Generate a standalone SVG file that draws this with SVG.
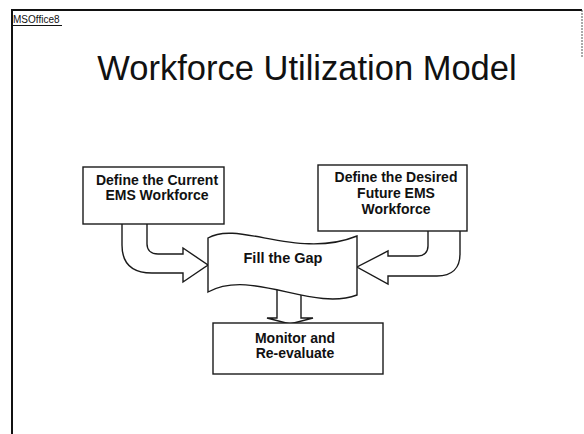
<svg xmlns="http://www.w3.org/2000/svg" width="584" height="434" viewBox="0 0 584 434">
<style>
.frame{stroke:#111;stroke-width:2;fill:none}
.shape{fill:#fff;stroke:#1a1a1a;stroke-width:1.4;stroke-linejoin:miter}
.lbl{font-family:"Liberation Sans",Arial,sans-serif;font-weight:bold;font-size:14px;fill:#111;text-anchor:middle}
.title{font-family:"Liberation Sans",Arial,sans-serif;font-size:34.5px;fill:#111;text-anchor:middle}
.tag{font-family:"Liberation Sans",Arial,sans-serif;font-size:10px;fill:#111}
</style>
<rect width="584" height="434" fill="#fff"/>
<g id="frame">
<path class="frame" d="M12,434 L12,10 L582,10"/>
<path d="M582,10 L582,58" stroke="#555" stroke-width="1" stroke-dasharray="2,1" fill="none"/>
<path d="M12,25.5 L62,25.5" stroke="#111" stroke-width="1.2" fill="none"/>
<text class="tag" x="13" y="23">MSOffice8</text>
</g>
<text class="title" x="307" y="80">Workforce Utilization Model</text>
<g id="connectors">
<path class="shape" d="M122,224 L122,245 C122,263 132,273 152,273 L183,273 L183,282 L208,265 L183,248 L183,254 L158,254 C151,254 147,250 147,244 L147,224"/>
<path class="shape" d="M460,231 L460,254 C460,268 452,276 437,276 L388,276 L388,284 L357,267 L388,251 L388,256 L418,256 C424,256 428,252 428,246 L428,231"/>
<path class="shape" d="M277,288 L277,318 L267,318 L290,324 L313,318 L301,318 L301,288"/>
</g>
<g id="node-current">
<rect class="shape" x="83" y="167" width="141" height="57"/>
<text class="lbl" x="157" y="185">Define the Current</text>
<text class="lbl" x="157" y="200">EMS Workforce</text>
</g>
<g id="node-desired">
<rect class="shape" x="318" y="165" width="149" height="66"/>
<text class="lbl" x="396" y="182">Define the Desired</text>
<text class="lbl" x="396" y="198">Future EMS</text>
<text class="lbl" x="396" y="214">Workforce</text>
</g>
<g id="node-gap">
<path class="shape" d="M208,238 C238,220 298,260 357,236 L357,295 C312,312 252,268 208,292 Z"/>
<text class="lbl" x="283" y="263" style="font-size:14.5px">Fill the Gap</text>
</g>
<g id="node-monitor">
<rect class="shape" x="213" y="323" width="170" height="51"/>
<text class="lbl" x="295" y="343">Monitor and</text>
<text class="lbl" x="295" y="358">Re-evaluate</text>
</g>
</svg>
